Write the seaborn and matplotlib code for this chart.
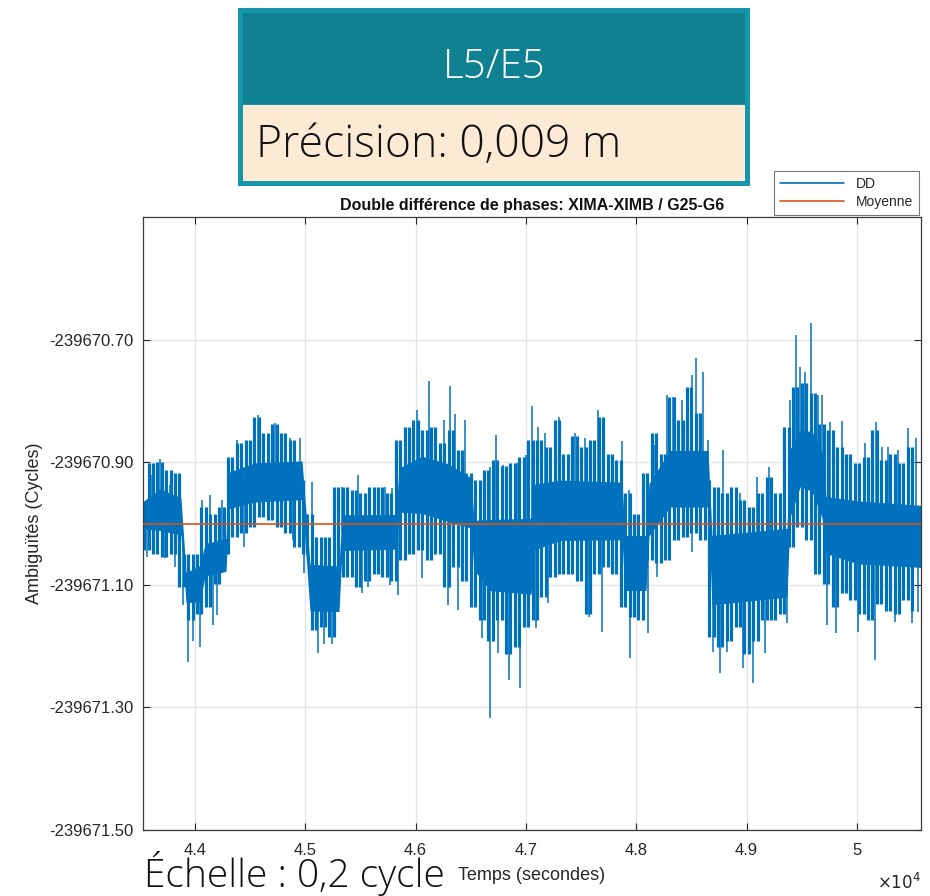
import numpy as np
import pandas as pd
import matplotlib
matplotlib.use("Agg")
import matplotlib.pyplot as plt
from matplotlib.patches import Rectangle
from matplotlib.lines import Line2D
import seaborn as sns

# ---------------- data ----------------
BASE = -239671.0  # cycles; series values below are offsets from BASE

# DD series: epochs every 40 s, alternating local maxima / minima
dd_t = np.arange(43540, 50541, 40)
dd_v = [0.035, -0.044, 0.098, -0.049, 0.101, -0.054, 0.087, -0.049, 0.082, -0.104,
        -0.049, -0.158, -0.049, -0.147, 0.027, -0.136, 0.016, -0.098, 0.027, -0.049,
        0.109, -0.022, 0.131, -0.016, 0.136, -0.005, 0.174, 0.011, 0.147, 0.005,
        0.163, -0.005, 0.147, -0.016, 0.136, -0.038, 0.071, -0.049, 0.016, -0.174,
        -0.022, -0.169, -0.022, -0.185, 0.060, -0.087, 0.060, -0.087, 0.054, -0.104,
        0.049, -0.093, 0.060, -0.082, 0.060, -0.087, 0.049, -0.093, 0.136, -0.060,
        0.158, -0.049, 0.169, -0.044, 0.153, -0.060, 0.158, -0.049, 0.131, -0.104,
        0.153, -0.071, 0.120, -0.093, 0.082, -0.136, 0.071, -0.158, 0.087, -0.191,
        0.104, -0.158, 0.093, -0.213, 0.098, -0.202, 0.109, -0.169, 0.136, -0.158,
        0.136, -0.120, 0.125, -0.087, 0.169, -0.082, 0.114, -0.082, 0.142, -0.093,
        0.125, -0.147, 0.136, -0.082, 0.174, -0.071, 0.114, -0.082, 0.104, -0.136,
        0.049, -0.153, 0.016, -0.158, 0.082, -0.060, 0.147, -0.065, 0.114, -0.060,
        0.207, -0.027, 0.169, -0.022, 0.223, -0.016, 0.180, -0.027, 0.071, -0.185,
        0.060, -0.202, 0.049, -0.191, 0.060, -0.169, 0.038, -0.213, 0.027, -0.191,
        0.049, -0.158, 0.076, -0.158, 0.049, -0.147, 0.158, -0.038, 0.223, -0.005,
        0.229, -0.027, 0.213, -0.082, 0.163, -0.098, 0.153, -0.136, 0.125, -0.114,
        0.114, -0.125, 0.098, -0.147, 0.109, -0.158, 0.153, -0.131, 0.104, -0.142,
        0.114, -0.147, 0.098, -0.125, 0.125, -0.142]

# dense part of the noise band: time (s), upper and lower edge
band_t = [43530, 43684, 43874, 43920, 44047, 44092, 44282, 44309, 44545, 44971,
          45043, 45306, 45333, 45823, 45850, 46058, 46294, 46502, 46529, 46674,
          47046, 47073, 47309, 47871, 47898, 48088, 48115, 48305, 48650, 48686,
          49366, 49393, 49484, 49592, 49683, 49719, 50009, 50580]
band_top = [0.054, 0.084, 0.067, -0.060, -0.044, -0.011, -0.003, 0.108, 0.125, 0.128,
            -0.035, -0.039, 0.038, 0.038, 0.120, 0.148, 0.136, 0.108, 0.038, 0.054,
            0.059, 0.108, 0.111, 0.106, 0.017, 0.017, 0.100, 0.157, 0.157, 0.027,
            0.038, 0.166, 0.190, 0.190, 0.162, 0.082, 0.079, 0.071]
band_bot = [-0.027, -0.039, -0.044, -0.149, -0.152, -0.108, -0.100, 0.000, 0.009, 0.013,
            -0.174, -0.174, -0.068, -0.065, -0.011, -0.022, -0.035, -0.041, -0.108, -0.157,
            -0.166, -0.087, -0.068, -0.065, -0.146, -0.146, -0.055, -0.011, -0.011, -0.179,
            -0.166, -0.035, 0.022, 0.013, -0.035, -0.087, -0.108, -0.113]

# isolated upward spikes: time (s), peak
up_t = [43531, 43612, 43684, 43775, 44065, 44137, 44246, 44382, 44572, 44726,
        44862, 44953, 45061, 45297, 45333, 45478, 45723, 45786, 45913, 46013,
        46122, 46258, 46312, 46357, 46448, 46674, 46729, 46792, 46919, 47001,
        47055, 47109, 47173, 47300, 47445, 47535, 47653, 47698, 47871, 47934,
        48170, 48278, 48333, 48414, 48505, 48541, 48605, 48650, 48786, 48940,
        49094, 49203, 49339, 49393, 49447, 49484, 49529, 49583, 49647, 49683,
        49756, 49864, 50073, 50172, 50227, 50281, 50372, 50462, 50535]
up_v = [0.60, 0.079, 0.105, 0.063, 0.038, 0.046, 0.038, 0.136, 0.177, 0.164,
        0.140, 0.139, 0.067, 0.043, 0.059, 0.079, 0.059, 0.058, 0.156, 0.185,
        0.232, 0.169, 0.224, 0.178, 0.169, 0.092, 0.144, 0.095, 0.098, 0.111,
        0.191, 0.157, 0.148, 0.173, 0.148, 0.140, 0.185, 0.157, 0.134, 0.054,
        0.128, 0.209, 0.206, 0.201, 0.242, 0.270, 0.247, 0.136, 0.120, 0.049,
        0.076, 0.092, 0.128, 0.201, 0.307, 0.255, 0.247, 0.327, 0.209, 0.209,
        0.166, 0.167, 0.131, 0.166, 0.125, 0.125, 0.120, 0.155, 0.139]

# isolated downward spikes
down_t = [43566, 43729, 43820, 43892, 43938, 43983, 44047, 44164, 44201, 44382,
          44445, 44889, 44989, 45116, 45170, 45243, 45515, 45569, 45768, 45841,
          46058, 46267, 46294, 46384, 46602, 46674, 46747, 46847, 46901, 46946,
          47091, 47200, 47572, 47689, 47943, 48106, 48188, 48505, 48695, 48759,
          48822, 48967, 49058, 49167, 49366, 49728, 49810, 50009, 50163, 50345,
          50499, 50553]
down_v = [-0.055, -0.057, -0.071, -0.133, -0.226, -0.191, -0.202, -0.166, -0.149, -0.016,
          -0.039, -0.027, -0.081, -0.211, -0.196, -0.196, -0.113, -0.104, -0.100, -0.117,
          -0.089, -0.100, -0.133, -0.141, -0.187, -0.318, -0.211, -0.256, -0.202, -0.269,
          -0.170, -0.130, -0.152, -0.177, -0.220, -0.179, -0.087, -0.047, -0.210, -0.244,
          -0.210, -0.235, -0.261, -0.211, -0.162, -0.166, -0.179, -0.177, -0.223, -0.161,
          -0.162, -0.145]

mean_value = -239671.00
x_range = [43530, 50580]
x_ticks = [44000, 45000, 46000, 47000, 48000, 49000, 50000]
x_tick_labels = ["4.4", "4.5", "4.6", "4.7", "4.8", "4.9", "5"]
y_ticks = [-239671.50, -239671.30, -239671.10, -239670.90, -239670.70]
y_tick_labels = ["-239671.50", "-239671.30", "-239671.10", "-239670.90", "-239670.70"]

title = "Double différence de phases: XIMA-XIMB / G25-G6"
header_title = "L5/E5"
header_value = "Précision: 0,009 m"
scale_note = "Échelle : 0,2 cycle"

# ---------------- style ----------------
sns.set_style("ticks")
plt.rcParams["font.family"] = ["Liberation Sans", "DejaVu Sans"]
DD_COLOR = "#0072BD"
MEAN_COLOR = "#D95319"
CORE_FRACTION = 0.55  # share of the dense band drawn fully solid

W, H = 930, 896
fig = plt.figure(figsize=(W / 100, H / 100), dpi=100)


def fx(x):
    return x / W


def fy(y):
    return 1 - y / H


ax = fig.add_axes([fx(143), fy(830), fx(921) - fx(143), fy(217) - fy(830)])

bt = np.array(band_t, dtype=float)
btop = BASE + np.array(band_top)
bbot = BASE + np.array(band_bot)
bmid = (btop + bbot) / 2

# solid centre of the band
ax.fill_between(bt, bmid - CORE_FRACTION * (bmid - bbot), bmid + CORE_FRACTION * (btop - bmid),
                color=DD_COLOR, lw=0, zorder=2)

# DD series: each epoch drawn as a vertical stroke between successive extremes
ddv = BASE + np.array(dd_v)
ddt = np.asarray(dd_t, dtype=float)
ax.vlines(ddt[:-1], np.minimum(ddv[:-1], ddv[1:]), np.maximum(ddv[:-1], ddv[1:]),
          color=DD_COLOR, lw=2.3, zorder=2)

# isolated spikes
ut = np.array(up_t, dtype=float)
uv = BASE + np.array(up_v)
ax.vlines(ut, np.interp(ut, bt, bmid), uv, color=DD_COLOR, lw=1.1, zorder=2)
dt = np.array(down_t, dtype=float)
dv = BASE + np.array(down_v)
ax.vlines(dt, np.interp(dt, bt, bmid), dv, color=DD_COLOR, lw=1.1, zorder=2)

# mean line
mean_df = pd.DataFrame({"t": x_range, "v": [mean_value, mean_value]})
sns.lineplot(data=mean_df, x="t", y="v", ax=ax, color=MEAN_COLOR, lw=1.2, zorder=3,
             legend=False)

ax.set_xlim(*x_range)
ax.set_ylim(-239671.50, -239670.50)
ax.set_xticks(x_ticks)
ax.set_xticklabels(x_tick_labels)
ax.set_yticks(y_ticks)
ax.set_yticklabels(y_tick_labels)
ax.tick_params(axis="both", direction="in", top=True, right=True, length=5, width=0.8,
               labelsize=12, colors="#262626", labelcolor="#262626")
ax.tick_params(axis="x", pad=9)
ax.tick_params(axis="y", pad=7)
ax.grid(True, color="#e3e3e3", lw=0.9)
ax.set_axisbelow(True)
for s in ax.spines.values():
    s.set_color("#3a3a3a")
    s.set_linewidth(0.9)
    s.set_visible(True)

ax.set_xlabel("Temps (secondes)", fontsize=13, color="#262626", labelpad=7)
ax.set_ylabel("Ambiguïtés (Cycles)", fontsize=13, color="#262626", labelpad=4)
ax.set_title(title, fontsize=11.5, fontweight="bold", color="#111111", pad=5)
ax.text(1.0, -0.085, r"$\times10^{4}$", transform=ax.transAxes, ha="right", va="center",
        fontsize=12, color="#262626")

handles = [Line2D([], [], color=DD_COLOR, lw=1.2), Line2D([], [], color=MEAN_COLOR, lw=1.2)]
leg = ax.legend(handles, ["DD", "Moyenne"], loc="lower right", bbox_to_anchor=(1.0, 1.0),
                fontsize=10, frameon=True, fancybox=False, edgecolor="#555555",
                handlelength=4.6, borderaxespad=0.15, labelspacing=0.25,
                borderpad=0.45)
leg.get_frame().set_linewidth(0.8)

# header box
fig.add_artist(Rectangle((fx(238), fy(186)), fx(750) - fx(238), fy(8) - fy(186),
                         transform=fig.transFigure, facecolor="#1696AA", edgecolor="none"))
fig.add_artist(Rectangle((fx(243), fy(104)), fx(745) - fx(243), fy(13) - fy(104),
                         transform=fig.transFigure, facecolor="#0F8191", edgecolor="none"))
fig.add_artist(Rectangle((fx(243), fy(181)), fx(745) - fx(243), fy(105) - fy(181),
                         transform=fig.transFigure, facecolor="#FCEAD4", edgecolor="none"))
fig.text(fx(494), fy(68), header_title, ha="center", va="center", fontsize=29,
         color="white", family=["Open Sans", "DejaVu Sans"], fontweight="light")
fig.text(fx(256), fy(146), header_value, ha="left", va="center", fontsize=32,
         color="#111111", family=["Open Sans", "DejaVu Sans"], fontweight="light")

fig.text(fx(144), fy(887), scale_note, ha="left", va="baseline", fontsize=28,
         color="#111111", family=["Open Sans", "DejaVu Sans"], fontweight="light")

fig.savefig("out.png", dpi=100)
